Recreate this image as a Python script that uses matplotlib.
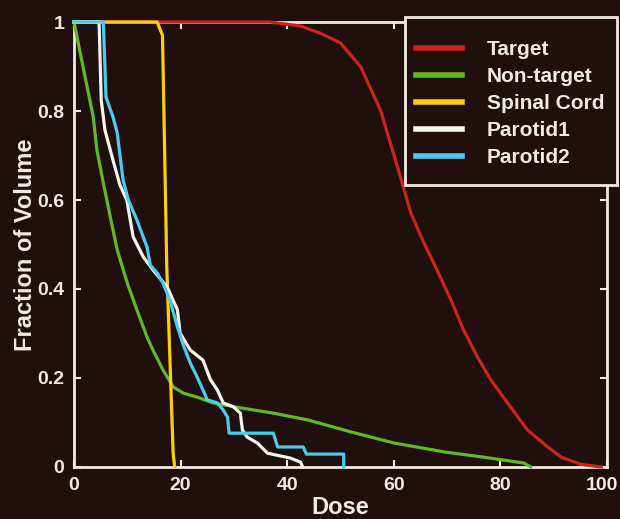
import numpy as np
import matplotlib
matplotlib.use("Agg")
import matplotlib.pyplot as plt
import matplotlib.transforms as mtransforms
from matplotlib.patches import Rectangle

plt.rcParams['font.family'] = ['Liberation Sans', 'DejaVu Sans']
plt.rcParams['font.weight'] = 'bold'

bg = '#200f0c'
fg = '#f2ece0'

# dose-volume curves
target_dose = [0, 36.8, 42.5, 46.2, 50.0, 53.8, 57.5, 60.7, 63.2, 65.4, 68.1, 70.7, 73.1, 75.7, 78.2, 81.9, 85.1, 88.9, 91.4, 95.1, 98.9]
target_vol = [1, 1, 0.991, 0.975, 0.953, 0.899, 0.802, 0.674, 0.571, 0.510, 0.443, 0.376, 0.308, 0.247, 0.196, 0.135, 0.083, 0.045, 0.022, 0.006, 0]

nontarget_dose = [0, 1.7, 3.6, 4.3, 5.5, 6.8, 8.1, 10.0, 11.8, 13.7, 14.8, 16.7, 18.6, 20.5, 23.1, 26.1, 31.2, 37.4, 43.8, 51.9, 60.0, 69.4, 76.9, 84.4, 85.7]
nontarget_vol = [1, 0.899, 0.787, 0.712, 0.638, 0.562, 0.488, 0.413, 0.353, 0.292, 0.263, 0.218, 0.180, 0.166, 0.157, 0.144, 0.133, 0.121, 0.106, 0.079, 0.054, 0.034, 0.022, 0.009, 0]

cord_dose = [0, 15.6, 16.6, 17.4, 18.6, 18.9]
cord_vol = [1, 1, 0.97, 0.45, 0.03, 0]

parotid1_dose = [0, 4.7, 5.1, 5.8, 7.3, 8.6, 9.9, 11.1, 13.0, 14.8, 17.5, 19.4, 19.9, 21.8, 24.2, 25.6, 26.9, 28.0, 29.9, 31.2, 31.6, 32.5, 34.4, 36.3, 40.6, 42.5, 42.9]
parotid1_vol = [1, 1, 0.825, 0.757, 0.690, 0.634, 0.600, 0.517, 0.472, 0.443, 0.404, 0.353, 0.301, 0.263, 0.240, 0.196, 0.173, 0.144, 0.135, 0.121, 0.083, 0.067, 0.054, 0.031, 0.020, 0.011, 0]

parotid2_dose = [0, 5.5, 6.0, 7.3, 8.1, 9.2, 10.2, 11.8, 13.7, 14.3, 15.6, 16.7, 18.0, 19.4, 20.5, 21.8, 23.1, 24.2, 25.0, 26.9, 28.0, 28.8, 29.1, 37.4, 38.2, 43.0, 43.6, 50.6, 50.6]
parotid2_vol = [1, 1, 0.831, 0.787, 0.751, 0.645, 0.600, 0.555, 0.494, 0.454, 0.436, 0.413, 0.375, 0.315, 0.274, 0.234, 0.202, 0.173, 0.151, 0.144, 0.128, 0.112, 0.076, 0.076, 0.045, 0.045, 0.029, 0.029, 0]

fig = plt.figure(figsize=(6.2, 5.19), dpi=100, facecolor=bg)
ax = fig.add_axes([0.1194, 0.1002, 0.8596, 0.8574], facecolor=bg)

lw = 2.3
ax.plot(target_dose, target_vol, color='#cc2418', lw=lw, label='Target', clip_on=False, zorder=3)
ax.plot(nontarget_dose, nontarget_vol, color='#62b820', lw=lw, label='Non-target', clip_on=False, zorder=3)
ax.plot(cord_dose, cord_vol, color='#ffd000', lw=lw, label='Spinal Cord', clip_on=False, zorder=3)
ax.plot(parotid1_dose, parotid1_vol, color='#f8f4ea', lw=lw, label='Parotid1', clip_on=False, zorder=3)
ax.plot(parotid2_dose, parotid2_vol, color='#48cdef', lw=lw, label='Parotid2', clip_on=False, zorder=3)

ax.set_xlim(0, 100)
ax.set_ylim(0, 1)
ax.set_xticks([0, 20, 40, 60, 80, 100])
ax.set_yticks([0, 0.2, 0.4, 0.6, 0.8, 1])
ax.set_yticklabels(['0', '0.2', '0.4', '0.6', '0.8', '1'])
for s in ax.spines.values():
    s.set_color(fg)
    s.set_linewidth(2)
ax.tick_params(colors=fg, labelsize=14, direction='in', length=5, width=1.5,
               top=True, right=True, pad=7)
# last x label sits at the right edge, pull it in a bit
last = ax.get_xticklabels()[-1]
last.set_transform(last.get_transform() + mtransforms.ScaledTranslation(-5 / 100, 0, fig.dpi_scale_trans))

ax.set_xlabel('Dose', color=fg, fontsize=17, fontweight='bold', labelpad=2)
ax.set_ylabel('Fraction of Volume', color=fg, fontsize=17, fontweight='bold', labelpad=0)

# legend box, drawn by hand so the padding matches
fig.patches.append(Rectangle((0.6532, 0.6435), 0.3419, 0.3237, transform=fig.transFigure,
                             facecolor=bg, edgecolor=fg, linewidth=2, zorder=5))
leg = fig.legend(loc='upper left', bbox_to_anchor=(0.671, 0.923), fontsize=15,
                 frameon=False, handlelength=2.2, handletextpad=1.2, labelspacing=0.39,
                 borderpad=0, borderaxespad=0)
leg.set_zorder(6)
for t in leg.get_texts():
    t.set_color(fg)
for h in leg.get_lines():
    h.set_linewidth(4)

fig.savefig('out.png', dpi=100, facecolor=bg)
